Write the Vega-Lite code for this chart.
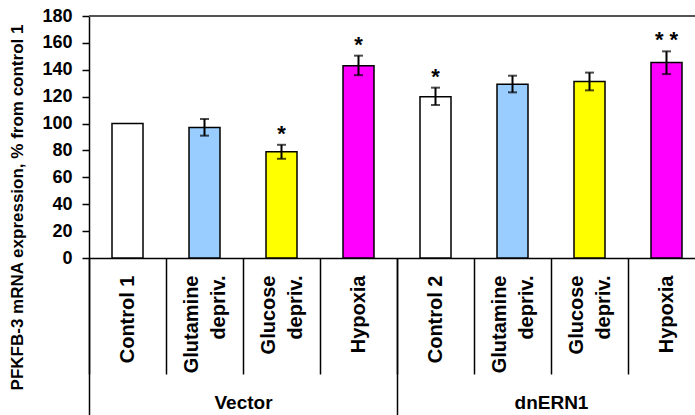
{
  "$schema": "https://vega.github.io/schema/vega-lite/v6.json",
  "width": 606,
  "height": 242,
  "autosize": "none",
  "padding": {"left": 89, "top": 16, "right": 0, "bottom": 157},
  "config": {
    "view": {"stroke": null},
    "font": "Liberation Sans",
    "axisY": {
      "tickCount": 9,
      "labelOverlap": false,
      "grid": false,
      "titleFont": "Liberation Sans", "titleFontSize": 17, "titleFontWeight": "bold", "titleColor": "black",
      "titleX": -72, "titleY": 191, "titleAngle": 270, "titleBaseline": "middle", "titleAlign": "center",
      "labelFont": "Liberation Sans", "labelFontSize": 18, "labelFontWeight": "bold", "labelColor": "black",
      "labelPadding": 10, "tickSize": 7, "tickColor": "black", "tickWidth": 1.5,
      "domainColor": "black", "domainWidth": 1.5
    }
  },
  "data": {
    "values": [
      {"key": "Vector|Control 1", "group": "Vector", "treat": "Control", "value": 100, "lo": null, "hi": null, "star": ""},
      {"key": "Vector|Glutamine|depriv.", "group": "Vector", "treat": "Glutamine", "value": 97, "lo": 91, "hi": 103.4, "star": ""},
      {"key": "Vector|Glucose|depriv.", "group": "Vector", "treat": "Glucose", "value": 79, "lo": 73.8, "hi": 84.2, "star": "*"},
      {"key": "Vector|Hypoxia", "group": "Vector", "treat": "Hypoxia", "value": 143, "lo": 136, "hi": 150.5, "star": "*"},
      {"key": "dnERN1|Control 2", "group": "dnERN1", "treat": "Control", "value": 120, "lo": 113.8, "hi": 126.7, "star": "*"},
      {"key": "dnERN1|Glutamine|depriv.", "group": "dnERN1", "treat": "Glutamine", "value": 129.3, "lo": 123.2, "hi": 135.6, "star": ""},
      {"key": "dnERN1|Glucose|depriv.", "group": "dnERN1", "treat": "Glucose", "value": 131.2, "lo": 124.7, "hi": 137.9, "star": ""},
      {"key": "dnERN1|Hypoxia", "group": "dnERN1", "treat": "Hypoxia", "value": 145.5, "lo": 136.8, "hi": 153.7, "star": "* *"}
    ]
  },
  "layer": [
    {
      "layer": [
        {
          "mark": {"type": "bar", "width": 31, "stroke": "black", "strokeWidth": 1.5},
          "encoding": {
            "x": {
              "field": "key", "type": "nominal",
              "scale": {
                "domain": ["Vector|Control 1", "Vector|Glutamine|depriv.", "Vector|Glucose|depriv.", "Vector|Hypoxia", "dnERN1|Control 2", "dnERN1|Glutamine|depriv.", "dnERN1|Glucose|depriv.", "dnERN1|Hypoxia"],
                "range": [0, 616], "paddingInner": 0, "paddingOuter": 0
              },
              "axis": {
                "title": null,
                "labelExpr": "slice(split(datum.label, '|'), 1)",
                "labelAngle": 270, "labelAlign": "right", "labelBaseline": "middle",
                "labelOffset": {"expr": "length(split(datum.label, '|')) > 2 ? -13.5 : 0"},
                "labelFont": "Liberation Sans", "labelFontSize": 20, "labelFontWeight": "bold",
                "labelColor": "black", "labelLineHeight": 27,
                "labelPadding": -99, "labelOverlap": false, "labelBound": false, "labelLimit": 0,
                "tickBand": "extent", "tickSize": 116, "tickColor": "black", "tickWidth": 1.5,
                "domainColor": "black", "domainWidth": 1.5
              }
            },
            "y": {
              "field": "value", "type": "quantitative",
              "title": "PFKFB-3 mRNA expression, % from control 1",
              "scale": {"domain": [0, 180], "nice": false}
            },
            "color": {
              "field": "treat", "type": "nominal",
              "scale": {"domain": ["Control", "Glutamine", "Glucose", "Hypoxia"], "range": ["#FFFFFF", "#99CCFF", "#FFFF00", "#FF00FF"]},
              "legend": null
            }
          }
        },
        {
          "mark": {"type": "rule", "color": "#555555", "strokeWidth": 1},
          "encoding": {"y": {"datum": 180, "type": "quantitative", "title": "PFKFB-3 mRNA expression, % from control 1"}}
        },
        {
          "transform": [{"filter": "datum.lo != null"}],
          "mark": {"type": "errorbar", "color": "black", "ticks": {"size": 9, "thickness": 2}, "rule": {"strokeWidth": 2}},
          "encoding": {
            "x": {"field": "key", "type": "nominal"},
            "y": {"field": "lo", "type": "quantitative", "title": "PFKFB-3 mRNA expression, % from control 1"},
            "y2": {"field": "hi"}
          }
        },
        {
          "transform": [{"filter": "datum.star != ''"}],
          "mark": {"type": "text", "font": "Liberation Sans", "fontSize": 22, "fontWeight": "bold", "color": "black", "baseline": "alphabetic", "dy": -4},
          "encoding": {
            "x": {"field": "key", "type": "nominal"},
            "y": {"field": "hi", "type": "quantitative", "title": "PFKFB-3 mRNA expression, % from control 1"},
            "text": {"field": "star"}
          }
        }
      ]
    },
    {
      "data": {"values": [{"group": "Vector"}, {"group": "dnERN1"}]},
      "mark": {"type": "point", "opacity": 0},
      "encoding": {
        "x": {
          "field": "group", "type": "nominal",
          "scale": {"domain": ["Vector", "dnERN1"], "range": [0, 616], "paddingInner": 0, "paddingOuter": 0},
          "axis": {
            "orient": "bottom", "title": null, "domain": false,
            "labelAngle": 0, "labelFont": "Liberation Sans", "labelFontSize": 19, "labelFontWeight": "bold", "labelColor": "black",
            "labelPadding": -22, "labelBound": false,
            "tickBand": "extent", "tickSize": 157, "tickColor": "black", "tickWidth": 1.5
          }
        }
      }
    }
  ],
  "resolve": {"scale": {"x": "independent"}, "axis": {"x": "independent"}}
}
